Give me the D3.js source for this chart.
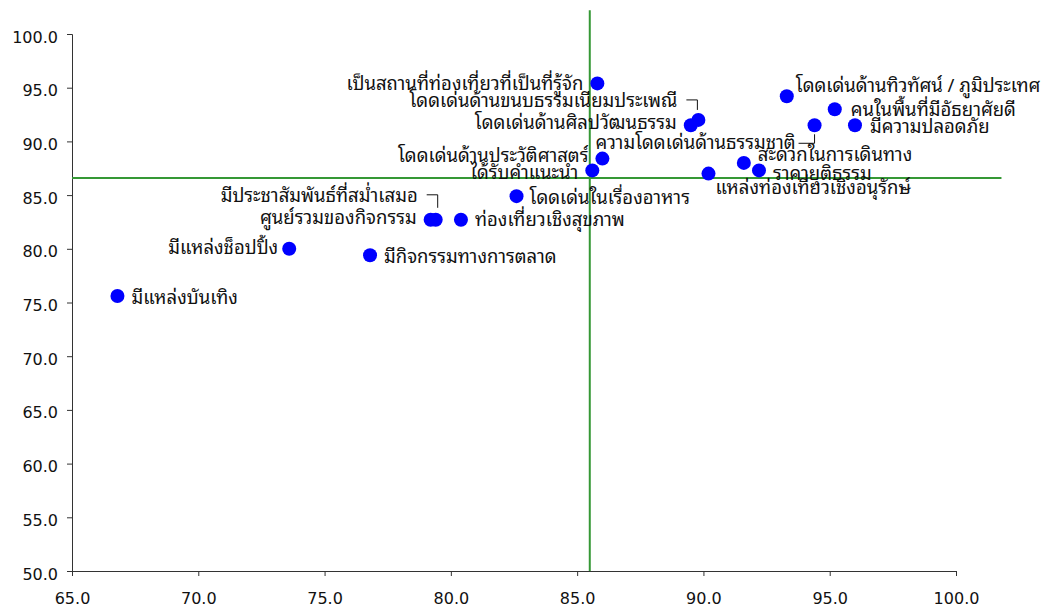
<!DOCTYPE html>
<html>
<head>
<meta charset="utf-8">
<script src="https://cdn.jsdelivr.net/npm/d3@7"></script>
<style>
  html, body { margin: 0; padding: 0; background: #fff; }
  svg { display: block; }
  .tick text { font-family: "DejaVu Sans", Tahoma, sans-serif; font-size: 16px; fill: #111; }
  .lbl { font-family: Tahoma, "Noto Sans Thai Looped", Loma, Garuda, Waree, Kinnari, "Noto Sans Thai", "DejaVu Sans", sans-serif; font-size: 18.5px; fill: #111; }
</style>
</head>
<body>
<svg id="chart" width="1052" height="610"></svg>
<script>
// ---- data ----
const attributes = [
  "เป็นสถานที่ท่องเที่ยวที่เป็นที่รู้จัก",
  "โดดเด่นด้านขนบธรรมเนียมประเพณี",
  "โดดเด่นด้านศิลปวัฒนธรรม",
  "ความโดดเด่นด้านธรรมชาติ",
  "โดดเด่นด้านทิวทัศน์ / ภูมิประเทศ",
  "คนในพื้นที่มีอัธยาศัยดี",
  "มีความปลอดภัย",
  "โดดเด่นด้านประวัติศาสตร์",
  "ได้รับคำแนะนำ",
  "แหล่งท่องเที่ยวเชิงอนุรักษ์",
  "สะดวกในการเดินทาง",
  "ราคายุติธรรม",
  "โดดเด่นในเรื่องอาหาร",
  "มีประชาสัมพันธ์ที่สม่ำเสมอ",
  "ศูนย์รวมของกิจกรรม",
  "ท่องเที่ยวเชิงสุขภาพ",
  "มีแหล่งช็อปปิ้ง",
  "มีกิจกรรมทางการตลาด",
  "มีแหล่งบันเทิง"
];
const xValues = [85.8, 89.8, 89.5, 94.4, 93.3, 95.2, 96.0, 86.0, 85.6, 90.2, 91.6, 92.2, 82.6, 79.4, 79.2, 80.4, 73.6, 76.8, 66.8];
const yValues = [95.4, 92.0, 91.5, 91.5, 94.2, 93.0, 91.5, 88.4, 87.3, 87.0, 88.0, 87.3, 84.9, 82.7, 82.7, 82.7, 80.0, 79.4, 75.6];
const xTicks = [65, 70, 75, 80, 85, 90, 95, 100];
const yTicks = [50, 55, 60, 65, 70, 75, 80, 85, 90, 95, 100];
const meanX = 85.5;
const meanY = 86.6;
const meanXLineTop = 102.2;
const meanYLineEnd = 101.8;

// ---- label placement (layout, px offsets from point) ----
const labelLayout = [
  { dx: -14, dy: 0, a: "end" },
  { dx: -21, dy: -19, a: "end", leader: [[-12, -20], [-1, -20], [-1, -10]] },
  { dx: -14, dy: -3, a: "end" },
  { dx: -19, dy: 17, a: "end", leader: [[-16, 18], [0, 18], [0, 9]] },
  { dx: 9, dy: -11, a: "start" },
  { dx: 16, dy: 0, a: "start" },
  { dx: 15, dy: 1, a: "start" },
  { dx: -14, dy: -3, a: "end" },
  { dx: -14, dy: 2, a: "end" },
  { dx: 7, dy: 14, a: "start" },
  { dx: 14, dy: -8, a: "start" },
  { dx: 14, dy: 3, a: "start" },
  { dx: 13, dy: 1, a: "start" },
  { dx: -18, dy: -24, a: "end", leader: [[-9, -25], [2, -25], [2, -12]] },
  { dx: -14, dy: -2, a: "end" },
  { dx: 14, dy: 0, a: "start" },
  { dx: -11, dy: -1, a: "end" },
  { dx: 14, dy: 1, a: "start" },
  { dx: 14, dy: 1, a: "start" }
];

const svg = d3.select("#chart");
const x = d3.scaleLinear().domain([65, 100]).range([72, 956]);
const y = d3.scaleLinear().domain([50, 100]).range([571, 34]);

// axes
svg.append("g").attr("transform", `translate(0,${y(50)})`)
  .call(d3.axisBottom(x).tickValues(xTicks).tickFormat(d3.format(".1f")).tickSizeInner(5).tickSizeOuter(5).tickPadding(17));
const yAxis = svg.append("g").attr("transform", `translate(${x(65)},0)`)
  .call(d3.axisLeft(y).tickValues(yTicks).tickFormat(d3.format(".1f")).tickSizeInner(5).tickSizeOuter(5).tickPadding(9));
yAxis.selectAll(".tick text").attr("dy", "0.5em");
svg.selectAll(".domain, .tick line").attr("stroke", "#333");

// reference (mean) lines
svg.append("line")
  .attr("x1", x(meanX)).attr("x2", x(meanX))
  .attr("y1", y(50)).attr("y2", y(meanXLineTop))
  .attr("stroke", "#359835").attr("stroke-width", 2);
svg.append("line")
  .attr("x1", x(65)).attr("x2", x(meanYLineEnd))
  .attr("y1", y(meanY)).attr("y2", y(meanY))
  .attr("stroke", "#359835").attr("stroke-width", 2);

const pts = attributes.map((name, i) => ({ name, xv: xValues[i], yv: yValues[i], L: labelLayout[i] }));

// points
svg.append("g").selectAll("circle").data(pts).join("circle")
  .attr("cx", d => x(d.xv)).attr("cy", d => y(d.yv)).attr("r", 7)
  .attr("fill", "#0000ff");

// leader lines
svg.append("g").selectAll("path").data(pts.filter(d => d.L.leader)).join("path")
  .attr("d", d => d3.line()(d.L.leader.map(p => [x(d.xv) + p[0], y(d.yv) + p[1]])))
  .attr("fill", "none").attr("stroke", "#111").attr("stroke-width", 1);

// labels
svg.append("g").selectAll("text").data(pts).join("text")
  .attr("class", "lbl")
  .attr("x", d => x(d.xv) + d.L.dx)
  .attr("y", d => y(d.yv) + d.L.dy)
  .attr("dy", "0.35em")
  .attr("text-anchor", d => d.L.a)
  .text(d => d.name);
</script>
</body>
</html>
